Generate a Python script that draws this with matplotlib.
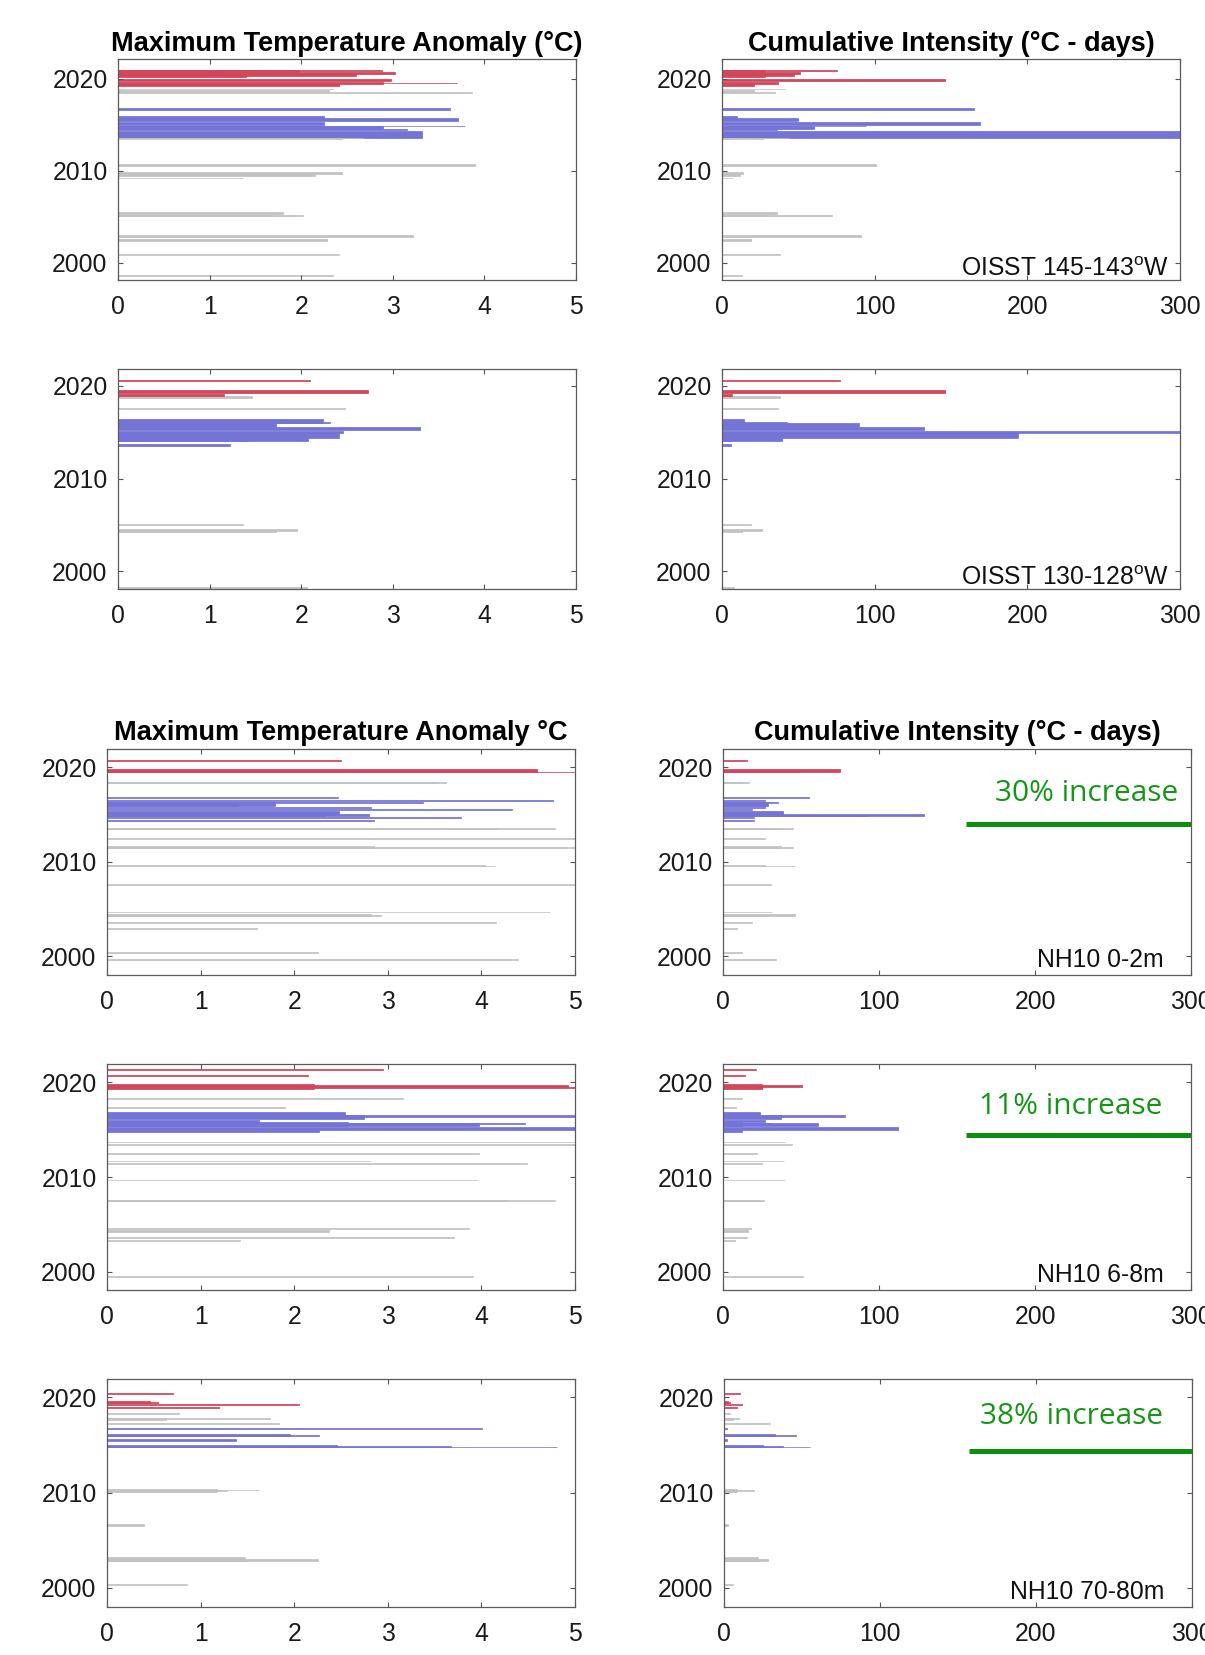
import matplotlib
matplotlib.use("Agg")
import matplotlib.pyplot as plt

plt.rcParams['font.family'] = ['Liberation Sans', 'DejaVu Sans']
plt.rcParams['mathtext.fontset'] = 'custom'
plt.rcParams['mathtext.rm'] = 'Liberation Sans'
plt.rcParams['mathtext.it'] = 'Liberation Sans:italic'
plt.rcParams['mathtext.bf'] = 'Liberation Sans:bold'

# ---------------- data (event start year, duration in years, values, class) ----------------
# class: r = 2019-2021 events, b = 2014-2016 events, g = other events
# Row 1: OISST 145-143W
r1_start = [2020.72, 2020.85, 2020.55, 2020.35, 2020.15, 2019.75, 2019.53, 2019.42, 2019.24,
            2018.85, 2018.55, 2018.45,
            2016.62, 2015.72, 2015.45, 2014.95, 2014.83, 2014.52, 2014.40, 2013.60,
            2013.42, 2013.50, 2010.47, 2009.64, 2009.46, 2009.17, 2005.25, 2005.07, 2005.05,
            2002.77, 2002.37, 2000.83, 1998.53]
r1_dur = [0.25, 0.05, 0.20, 0.20, 0.25, 0.22, 0.05, 0.25, 0.25,
          0.05, 0.25, 0.10,
          0.15, 0.22, 0.25, 0.35, 0.05, 0.30, 0.15, 0.68,
          0.15, 0.10, 0.20, 0.18, 0.15, 0.05, 0.25, 0.12, 0.15,
          0.20, 0.20, 0.15, 0.12]
r1_mta = [1.98, 2.88, 3.02, 2.60, 1.40, 2.98, 3.70, 2.89, 2.41,
          2.35, 2.30, 3.87,
          3.62, 2.25, 3.71, 2.25, 3.79, 2.89, 3.16, 3.32,
          2.45, 2.68, 3.90, 2.44, 2.15, 1.36, 1.80, 2.02, 1.69,
          3.22, 2.28, 2.41, 2.35]
r1_ci = [28, 75, 51, 47, 28, 146, 24, 37, 21,
         41, 21, 35,
         165, 10, 50, 169, 94, 60, 36, 330,
         27, 44, 101, 14, 12, 7, 36, 72, 30,
         91, 19, 38, 13]
r1_cat = "rrrrrrrrr" + "ggg" + "bbbbbbbb" + "ggggggggggggg"

# Row 2: OISST 130-128W
r2_start = [2020.50, 2019.25, 2018.90, 2018.64, 2017.49,
            2015.95, 2016.02, 2015.59, 2015.25, 2014.95, 2014.34, 2014.09, 2014.09, 2013.55,
            2005.00, 2004.37, 2004.23, 1998.20]
r2_dur = [0.15, 0.30, 0.25, 0.20, 0.12,
          0.50, 0.10, 0.35, 0.25, 0.20, 0.70, 0.90, 0.20, 0.12,
          0.15, 0.15, 0.25, 0.08]
r2_mta = [2.10, 2.73, 1.16, 1.46, 2.48,
          2.24, 2.31, 1.72, 3.30, 2.46, 2.41, 2.07, 1.42, 1.22,
          1.37, 1.95, 1.73, 2.06]
r2_ci = [77.6, 146, 6.4, 38, 36.4,
         14.7, 42.5, 90, 132, 330, 194, 39, 5.7, 5.7,
         18.9, 26.5, 13.4, 8]
r2_cat = "rrr" + "gg" + "bbbbbbbbb" + "gggg"

# Row 3: NH10 0-2m
r3_start = [2020.68, 2019.50, 2019.47, 2018.34, 2018.36,
            2016.72, 2016.44, 2016.23, 2015.94, 2015.87, 2015.73, 2015.45, 2014.99, 2014.85,
            2014.88, 2014.67, 2014.29,
            2013.47, 2013.50, 2012.38, 2011.46, 2011.48, 2009.52, 2009.55, 2007.58, 2004.66,
            2004.30, 2004.32, 2003.53, 2002.90, 2000.35, 1999.60]
r3_dur = [0.08, 0.30, 0.08, 0.15, 0.05,
          0.10, 0.10, 0.15, 0.40, 0.10, 0.10, 0.12, 0.35, 0.20,
          0.10, 0.10, 0.12,
          0.15, 0.05, 0.10, 0.20, 0.06, 0.15, 0.05, 0.08, 0.08,
          0.15, 0.05, 0.08, 0.08, 0.08, 0.10]
r3_mta = [2.50, 4.59, 5.30, 3.50, 3.62,
          2.47, 4.77, 3.38, 1.80, 1.39, 2.82, 4.33, 2.48, 2.80,
          2.33, 3.78, 2.85,
          4.17, 4.79, 5.30, 2.85, 5.30, 4.04, 4.14, 5.30, 4.73,
          2.82, 2.93, 4.16, 1.60, 2.25, 4.39]
r3_ci = [15.4, 75, 49, 12.8, 16.7,
         55, 26.7, 35, 29, 27, 26.7, 18.8, 38.5, 129,
         92, 20, 20,
         38, 45, 26.7, 37, 45, 27, 46, 31, 31.7,
         46, 30, 18.8, 9, 12, 34]
r3_cat = "rrr" + "gg" + "bbbbbbbbbbbb" + "ggggggggggggggg"

# Row 4: NH10 6-8m
r4_start = [2021.34, 2020.67, 2019.33, 2019.50, 2019.40,
            2018.28, 2017.30,
            2016.24, 2016.13, 2016.38, 2015.85, 2015.36, 2015.36, 2015.60, 2015.00, 2014.73,
            2013.43, 2013.67, 2012.44, 2011.67, 2011.42, 2009.67, 2007.45, 2007.50, 2004.57,
            2004.25, 2003.60, 2003.23, 1999.50]
r4_dur = [0.08, 0.10, 0.45, 0.20, 0.10,
          0.10, 0.08,
          0.63, 0.40, 0.20, 0.20, 0.50, 0.35, 0.08, 0.25, 0.25,
          0.05, 0.05, 0.08, 0.08, 0.10, 0.08, 0.12, 0.05, 0.10,
          0.15, 0.08, 0.15, 0.10]
r4_mta = [2.95, 2.15, 2.21, 4.93, 5.30,
          3.16, 1.90,
          2.54, 2.75, 5.30, 1.62, 2.57, 3.97, 4.47, 5.30, 2.26,
          5.30, 5.30, 3.97, 2.82, 4.49, 3.96, 4.27, 4.79, 3.87,
          2.37, 3.71, 1.42, 3.91]
r4_ci = [21, 14, 25, 50.6, 12.4,
         12.4, 8.6,
         24, 37, 78, 27, 12, 61, 30, 112, 12.4,
         44, 40, 22, 39, 25, 40, 26, 24, 17.8,
         16, 15.6, 8, 51]
r4_cat = "rrrrr" + "gg" + "bbbbbbbbb" + "ggggggggggggg"

# Row 5: NH10 70-80m
r5_start = [2020.32, 2019.40, 2019.45, 2019.19, 2018.91,
            2018.28, 2017.65, 2017.75, 2017.19,
            2016.66, 2015.96, 2016.00, 2015.40, 2014.76, 2014.80, 2014.78,
            2010.09, 2010.15, 2010.25, 2006.54, 2002.81, 2002.85, 2000.28]
r5_dur = [0.10, 0.20, 0.08, 0.10, 0.10,
          0.10, 0.20, 0.05, 0.15,
          0.15, 0.25, 0.05, 0.20, 0.30, 0.15, 0.05,
          0.30, 0.15, 0.05, 0.20, 0.45, 0.15, 0.10]
r5_mta = [0.70, 0.46, 0.55, 2.05, 1.20,
          0.77, 0.63, 1.74, 1.84,
          4.01, 1.95, 2.27, 1.38, 2.46, 3.68, 4.81,
          1.18, 1.28, 1.62, 0.40, 1.47, 2.25, 0.85]
r5_ci = [10.3, 2.8, 4.0, 11.8, 8.1,
         3.9, 6.0, 9.9, 29.6,
         2.0, 33, 46, 2.0, 25, 38, 55,
         8.6, 19, 3.4, 2.8, 22, 28, 6]
r5_cat = "rrrrr" + "gggg" + "bbbbbbb" + "ggggggg"

mta_ticks = [0, 1, 2, 3, 4, 5]
ci_ticks = [0, 100, 200, 300]
year_ticks = [2000, 2010, 2020]

labels_right = ["OISST 145-143$^{\\mathrm{o}}$W", "OISST 130-128$^{\\mathrm{o}}$W",
                "NH10 0-2m", "NH10 6-8m", "NH10 70-80m"]
increase_text = [None, None, "30% increase", "11% increase", "38% increase"]

# ---------------- style ----------------
COLORS = {'r': '#d2455a', 'b': '#7474d6', 'g': '#c2c2c2'}
W, H = 1205, 1655
fig = plt.figure(figsize=(W / 100, H / 100), dpi=100)


def px_axes(x0, y0, x1, y1):
    return fig.add_axes([x0 / W, 1 - y1 / H, (x1 - x0) / W, (y1 - y0) / H])


def draw(ax, start, dur, vals, cat, xmax, xticks, ylim):
    assert len(start) == len(dur) == len(vals) == len(cat)
    order = sorted(range(len(vals)), key=lambda i: -vals[i])
    ys = [start[i] for i in order]
    hs = [dur[i] for i in order]
    ws = [vals[i] for i in order]
    cs = [COLORS[cat[i]] for i in order]
    ax.barh(ys, ws, height=hs, align='edge', color=cs, edgecolor=cs, linewidth=0.55)
    ax.set_xlim(0, xmax)
    ax.set_ylim(*ylim)
    ax.set_xticks(xticks)
    ax.set_yticks(year_ticks)
    ax.tick_params(direction='in', length=3.8, width=0.8, top=True, right=True,
                   labelsize=17.8, colors='#555555', labelcolor='#1a1a1a')
    ax.tick_params(axis='y', pad=7.5)
    ax.tick_params(axis='x', pad=10.8)
    for s in ax.spines.values():
        s.set_color('#5a5a5a')
        s.set_linewidth(0.9)


rows = [
    (r1_start, r1_dur, r1_mta, r1_ci, r1_cat),
    (r2_start, r2_dur, r2_mta, r2_ci, r2_cat),
    (r3_start, r3_dur, r3_mta, r3_ci, r3_cat),
    (r4_start, r4_dur, r4_mta, r4_ci, r4_cat),
    (r5_start, r5_dur, r5_mta, r5_ci, r5_cat),
]
# pixel boxes (left panel x0,x1 ; right panel x0,x1 ; y0,y1)
boxes = [
    ((118, 576), (722, 1180), (59, 280), (1998.1, 2022.15)),
    ((118, 576), (722, 1180), (369, 589), (1998.1, 2021.8)),
    ((107, 575), (723, 1191), (749, 975), (1998.03, 2021.95)),
    ((107, 575), (723, 1191), (1064, 1290), (1998.1, 2021.94)),
    ((107, 575), (724, 1192), (1379, 1607), (1998.0, 2021.94)),
]
green_cfg = {2: (0.972, 0.805, 0.519, 0.668),
             3: (0.938, 0.811, 0.519, 0.686),
             4: (0.938, 0.834, 0.524, 0.685)}

for k, ((start, dur, mta, ci, cat), (lx, rx, yy, ylim)) in enumerate(zip(rows, boxes)):
    axl = px_axes(lx[0], yy[0], lx[1], yy[1])
    axr = px_axes(rx[0], yy[0], rx[1], yy[1])
    draw(axl, start, dur, mta, cat, 5, mta_ticks, ylim)
    draw(axr, start, dur, ci, cat, 300, ci_ticks, ylim)

    if k == 0:
        axl.set_title("Maximum Temperature Anomaly (°C)", fontsize=19.5, fontweight='bold', pad=5.5)
        axr.set_title("Cumulative Intensity (°C - days)", fontsize=19.5, fontweight='bold', pad=5.5)
    if k == 2:
        axl.set_title("Maximum Temperature Anomaly °C", fontsize=19.5, fontweight='bold', pad=6.5)
        axr.set_title("Cumulative Intensity (°C - days)", fontsize=19.5, fontweight='bold', pad=6.5)

    if k < 2:
        axr.text(0.976, 0.02, labels_right[k], transform=axr.transAxes, ha='right',
                 va='baseline', fontsize=17.8, color='#111111')
    else:
        axr.text(0.942, 0.037, labels_right[k], transform=axr.transAxes, ha='right',
                 va='baseline', fontsize=17.8, color='#111111')
        tx, ty, lx0, ly = green_cfg[k]
        axr.text(tx, ty, increase_text[k], transform=axr.transAxes, ha='right', va='center',
                 fontsize=21.5, color='#169616', family=['Open Sans', 'DejaVu Sans'])
        axr.plot([lx0, 1.0], [ly, ly], transform=axr.transAxes, color='#0c8f0c',
                 linewidth=3.6, solid_capstyle='butt', clip_on=False)

fig.savefig("out.png", dpi=100)
